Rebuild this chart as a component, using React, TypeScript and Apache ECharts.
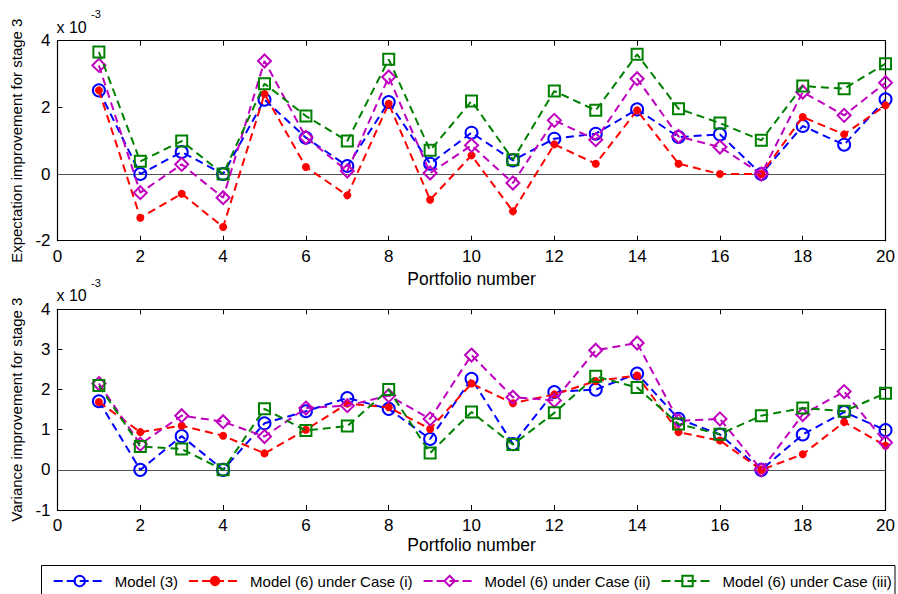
import React, { useEffect, useRef } from 'react';
import * as echarts from 'echarts';

const portfolios = [1, 2, 3, 4, 5, 6, 7, 8, 9, 10, 11, 12, 13, 14, 15, 16, 17, 18, 19, 20];

// Expectation improvement (x 10^-3)
const expModel3 = [2.51, 0, 0.66, 0, 2.23, 1.09, 0.24, 2.16, 0.31, 1.24, 0.41, 1.06, 1.21, 1.94, 1.11, 1.19, 0, 1.44, 0.88, 2.24];
const expCaseI = [2.51, -1.31, -0.59, -1.59, 2.4, 0.21, -0.64, 2.11, -0.77, 0.56, -1.12, 0.89, 0.31, 1.91, 0.31, 0, 0, 1.71, 1.19, 2.06];
const expCaseII = [3.26, -0.56, 0.29, -0.71, 3.39, 1.1, 0.09, 2.91, 0.03, 0.86, -0.27, 1.61, 1.03, 2.86, 1.13, 0.81, 0, 2.46, 1.76, 2.74];
const expCaseIII = [3.66, 0.38, 0.99, 0, 2.71, 1.74, 0.99, 3.44, 0.71, 2.19, 0.43, 2.49, 1.91, 3.59, 1.96, 1.53, 1.01, 2.64, 2.56, 3.31];

// Variance improvement (x 10^-3)
const varModel3 = [1.71, 0, 0.84, 0, 1.16, 1.46, 1.79, 1.52, 0.77, 2.27, 0.64, 1.94, 2.0, 2.4, 1.27, 0.88, 0, 0.88, 1.44, 0.99];
const varCaseI = [1.69, 0.94, 1.1, 0.85, 0.41, 1.0, 1.65, 1.56, 1.02, 2.15, 1.66, 1.88, 2.21, 2.35, 0.94, 0.73, 0, 0.39, 1.19, 0.6];
const varCaseII = [2.15, 0.64, 1.35, 1.2, 0.83, 1.54, 1.6, 1.85, 1.27, 2.86, 1.81, 1.73, 2.98, 3.16, 1.22, 1.27, 0, 1.38, 1.95, 0.68];
const varCaseIII = [2.1, 0.58, 0.52, 0, 1.52, 0.98, 1.09, 2.0, 0.42, 1.44, 0.63, 1.42, 2.33, 2.05, 1.14, 0.89, 1.35, 1.54, 1.46, 1.91];

const seriesNames = ['Model (3)', 'Model (6) under Case (i)', 'Model (6) under Case (ii)', 'Model (6) under Case (iii)'];
const seriesColors = ['#0000ff', '#ff0000', '#bf00bf', '#008000'];
const seriesSymbols = ['circle', 'circle', 'diamond', 'rect'];
const seriesSizes = [12, 8, 13, 11];
const seriesHollow = [true, false, true, true];
const expData = [expModel3, expCaseI, expCaseII, expCaseIII];
const varData = [varModel3, varCaseI, varCaseII, varCaseIII];

const xTicks = { min: 0, max: 20, interval: 2 };
const yTopTicks = { min: -2, max: 4, interval: 2 };
const yBottomTicks = { min: -1, max: 4, interval: 1 };

const FONT = "'Liberation Sans', Arial, Helvetica, sans-serif";

export default function App() {
  const ref = useRef<HTMLDivElement>(null);

  useEffect(() => {
    document.body.style.margin = '0';
    document.body.style.overflow = 'hidden';
    const chart = echarts.init(ref.current!, null, { renderer: 'svg' });

    const grids = [
      { left: 57.5, top: 40.7, width: 830.5, height: 200 },
      { left: 57.5, top: 309.3, width: 830.5, height: 200.7 },
    ];

    const tick = { inside: true, length: 5, lineStyle: { color: '#000', width: 1 } };
    const axisLine = { show: true, onZero: false, lineStyle: { color: '#000', width: 1.2 } };
    const label = { color: '#000', fontSize: 17, fontFamily: FONT };

    const xAxes: any[] = [];
    const yAxes: any[] = [];
    const nameGaps = [29, 26];
    const yNames = ['Expectation improvement for stage 3', 'Variance improvement for stage 3'];
    const yRanges = [yTopTicks, yBottomTicks];
    [0, 1].forEach((g) => {
      xAxes.push({
        type: 'value', gridIndex: g, position: 'bottom', ...xTicks,
        axisLine, axisTick: tick, splitLine: { show: false },
        axisLabel: { ...label, margin: 7 },
        name: 'Portfolio number', nameLocation: 'middle', nameGap: nameGaps[g],
        nameTextStyle: { color: '#000', fontSize: 17.5, fontFamily: FONT },
      });
      xAxes.push({
        type: 'value', gridIndex: g, position: 'top', ...xTicks,
        axisLine, axisTick: tick, splitLine: { show: false }, axisLabel: { show: false },
      });
      yAxes.push({
        type: 'value', gridIndex: g, position: 'left', ...yRanges[g],
        axisLine, axisTick: tick, splitLine: { show: false },
        axisLabel: { ...label, margin: 7 },
        name: yNames[g], nameLocation: 'middle', nameGap: 31, nameRotate: 90,
        nameTextStyle: { color: '#000', fontSize: 15, fontFamily: FONT },
      });
      yAxes.push({
        type: 'value', gridIndex: g, position: 'right', ...yRanges[g],
        axisLine, axisTick: tick, splitLine: { show: false }, axisLabel: { show: false },
      });
    });

    const series: any[] = [];
    [0, 1].forEach((g) => {
      const dataSet = g === 0 ? expData : varData;
      seriesNames.forEach((name, k) => {
        const color = seriesColors[k];
        const s: any = {
          type: 'line',
          name,
          xAxisIndex: g * 2,
          yAxisIndex: g * 2,
          data: portfolios.map((p, i) => [p, dataSet[k][i]]),
          symbol: seriesSymbols[k],
          symbolSize: seriesSizes[k],
          showAllSymbol: true,
          color,
          lineStyle: { color, width: 2, type: [8, 5] },
          itemStyle: seriesHollow[k]
            ? { color: 'rgba(255,255,255,0)', borderColor: color, borderWidth: 2 }
            : { color, borderWidth: 0 },
          z: 3 + k,
        };
        if (k === 0) {
          s.markLine = {
            silent: true,
            symbol: ['none', 'none'],
            label: { show: false },
            lineStyle: { color: '#555', width: 1, type: 'solid' },
            data: [{ yAxis: 0 }],
            z: 2,
          };
        }
        series.push(s);
      });
    });

    const legendData = seriesNames.map((name, k) => ({
      name,
      itemStyle: seriesHollow[k]
        ? { color: 'rgba(255,255,255,0)', borderColor: seriesColors[k], borderWidth: 2 }
        : { color: seriesColors[k], borderWidth: 0 },
      lineStyle: { color: seriesColors[k], width: 2, type: [9, 4] },
    }));

    const option: any = {
      animation: false,
      backgroundColor: '#fff',
      grid: grids,
      xAxis: xAxes,
      yAxis: yAxes,
      series,
      legend: {
        data: legendData,
        left: 52.7,
        top: 573.5,
        padding: 0,
        itemWidth: 52,
        itemHeight: 13,
        itemGap: 10,
        textStyle: { color: '#000', fontSize: 15, fontFamily: FONT, padding: [0, 0, 0, 4] },
        selectedMode: false,
      },
      graphic: [
        {
          type: 'rect',
          shape: { x: 41.5, y: 565.5, width: 853.5, height: 40 },
          style: { fill: 'none', stroke: '#000', lineWidth: 1 },
          silent: true,
        },
        { type: 'text', x: 56.5, y: 27, style: { text: 'x 10', fontSize: 16, fontFamily: FONT, fill: '#000', verticalAlign: 'middle' } },
        { type: 'text', x: 91, y: 14, style: { text: '-3', fontSize: 11, fontFamily: FONT, fill: '#000', verticalAlign: 'middle' } },
        { type: 'text', x: 56.5, y: 295.5, style: { text: 'x 10', fontSize: 16, fontFamily: FONT, fill: '#000', verticalAlign: 'middle' } },
        { type: 'text', x: 91, y: 282.5, style: { text: '-3', fontSize: 11, fontFamily: FONT, fill: '#000', verticalAlign: 'middle' } },
      ],
    };

    chart.setOption(option);
    return () => chart.dispose();
  }, []);

  return <div ref={ref} style={{ width: 898, height: 594 }} />;
}
